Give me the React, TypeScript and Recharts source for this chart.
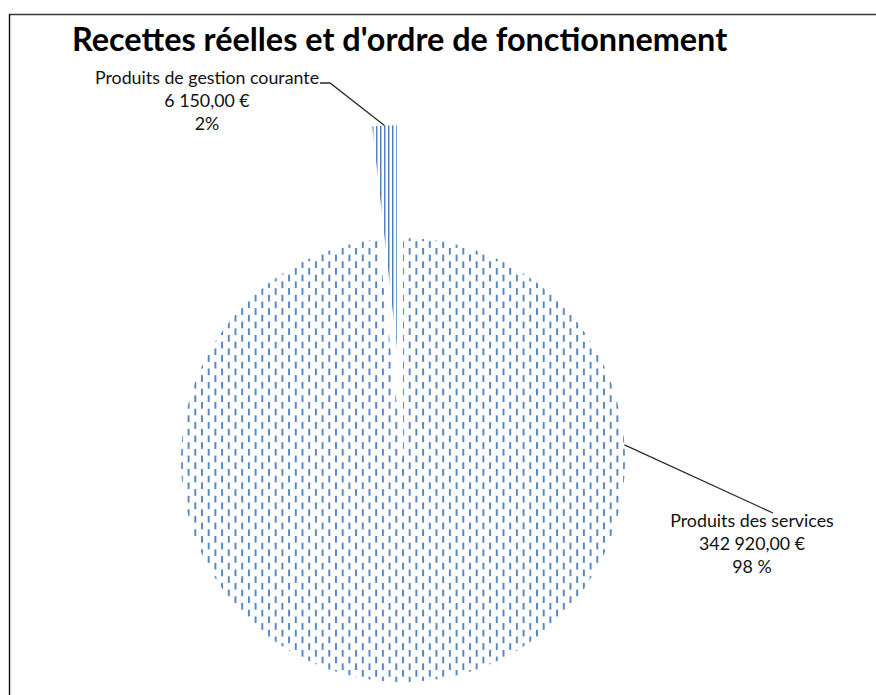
import { PieChart, Pie, Cell } from 'recharts'

const SLICE_NAMES = ['Produits des services', 'Produits de gestion courante']
const SLICE_VALUES = [342920, 6150]
const PERCENT_LABELS = ['98 %', '2%']
const EXPLODED = [false, true]

const TITLE = "Recettes réelles et d'ordre de fonctionnement"

const W = 876
const H = 695
const CX = 403
const CY = 460
const R = 222
const EXPLODE_DIST = 113

// label placement (text centre + first baseline), leader path after the slice edge
const LABEL_LAYOUT = [
  { x: 752, y: 527, attachAngle: 3.9, leader: [[773, 513]] },
  { x: 207, y: 84, attachAngle: null, leader: [[330, 83], [320, 83]] },
]

const formatEuro = (v: number) => {
  const [int, dec] = v.toFixed(2).split('.')
  return int.replace(/\B(?=(\d{3})+(?!\d))/g, ' ') + ',' + dec + ' €'
}

const data = SLICE_NAMES.map((name, i) => ({ name, value: SLICE_VALUES[i] }))
const total = SLICE_VALUES.reduce((a, b) => a + b, 0)

// mid angle of the exploded slice (recharts degrees, clockwise from 12 o'clock)
let cum = 0
let explodeMid = 90
SLICE_VALUES.forEach((v, i) => {
  if (EXPLODED[i]) explodeMid = 90 - (360 * (cum + v / 2)) / total
  cum += v
})
const RAD = Math.PI / 180
const ecx = CX + EXPLODE_DIST * Math.cos(explodeMid * RAD)
const ecy = CY - EXPLODE_DIST * Math.sin(explodeMid * RAD)

const makeLabel = (showExploded: boolean) => (props: any) => {
  const { cx, cy, outerRadius, midAngle, index } = props
  if (EXPLODED[index] !== showExploded) return null
  const lay = LABEL_LAYOUT[index]
  const ang = lay.attachAngle ?? midAngle
  const sx = cx + outerRadius * Math.cos(ang * RAD)
  const sy = cy - outerRadius * Math.sin(ang * RAD)
  const pts = [[sx, sy], ...lay.leader].map(p => p.join(',')).join(' ')
  const lines = [SLICE_NAMES[index], formatEuro(SLICE_VALUES[index]), PERCENT_LABELS[index]]
  return (
    <g>
      <polyline points={pts} fill="none" stroke="#2b2b2b" strokeWidth={1.3} />
      <text x={lay.x} y={lay.y} textAnchor="middle" fontFamily="Lato" fontSize={17.8} fill="#111">
        {lines.map((t, k) => (
          <tspan key={k} x={lay.x} dy={k === 0 ? 0 : 23}>{t}</tspan>
        ))}
      </text>
    </g>
  )
}

export default function App() {
  return (
    <div style={{ position: 'absolute', left: 0, top: 0, width: W, height: H, overflow: 'hidden', background: '#fff' }}>
      <svg width={W} height={H} style={{ position: 'absolute', left: 0, top: 0 }}>
        <line x1={9} y1={14.5} x2={W} y2={14.5} stroke="#3a3a3a" strokeWidth={1.6} />
        <line x1={9.5} y1={14} x2={9.5} y2={H} stroke="#111" strokeWidth={1.4} />
        <text x={72} y={51} fontFamily="Lato" fontWeight={700} fontSize={32.4} fill="#000">{TITLE}</text>
      </svg>
      <div style={{ position: 'absolute', left: 0, top: 0 }}>
        <PieChart width={W} height={H} margin={{ top: 0, right: 0, bottom: 0, left: 0 }}>
          <defs>
            <pattern id="dashV" patternUnits="userSpaceOnUse" width={13.4} height={13.4}>
              <rect x={0} y={0} width={2} height={6.7} fill="#4F81BD" fillOpacity={0.95} />
              <rect x={6.7} y={6.7} width={2} height={6.7} fill="#4F81BD" fillOpacity={0.95} />
            </pattern>
            <pattern id="linesV" patternUnits="userSpaceOnUse" width={4} height={4}>
              <rect x={0} y={0} width={1.5} height={4} fill="#4F81BD" />
            </pattern>
          </defs>
          <Pie
            data={data}
            dataKey="value"
            cx={CX}
            cy={CY}
            outerRadius={R}
            startAngle={90}
            endAngle={-270}
            stroke="none"
            isAnimationActive={false}
            label={makeLabel(false)}
            labelLine={false}
          >
            {data.map((d, i) => (
              <Cell key={d.name} fill={EXPLODED[i] ? 'none' : 'url(#dashV)'} />
            ))}
          </Pie>
          <Pie
            data={data}
            dataKey="value"
            cx={ecx}
            cy={ecy}
            outerRadius={R}
            startAngle={90}
            endAngle={-270}
            stroke="none"
            isAnimationActive={false}
            label={makeLabel(true)}
            labelLine={false}
          >
            {data.map((d, i) => (
              <Cell key={d.name} fill={EXPLODED[i] ? 'url(#linesV)' : 'none'} />
            ))}
          </Pie>
        </PieChart>
      </div>
    </div>
  )
}
